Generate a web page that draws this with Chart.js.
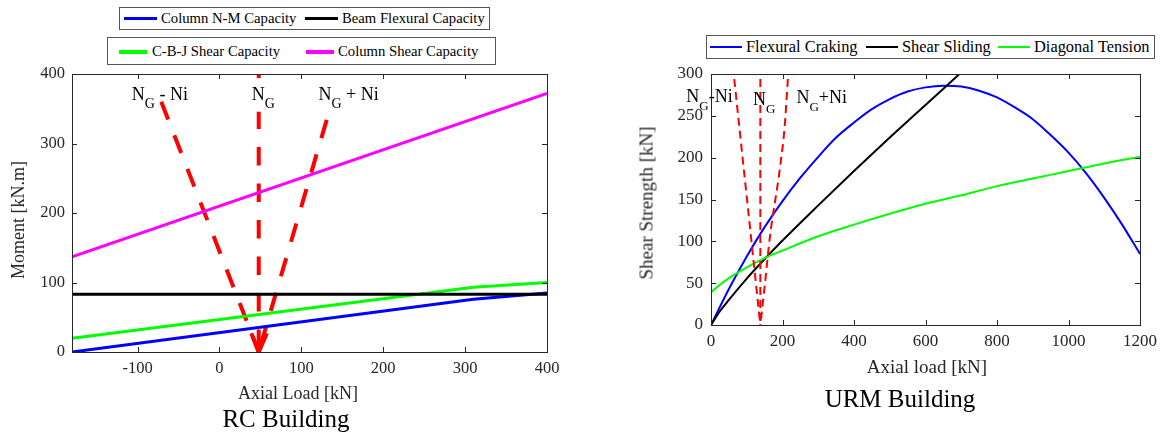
<!DOCTYPE html>
<html>
<head>
<meta charset="utf-8">
<script src="https://cdn.jsdelivr.net/npm/chart.js@4.4.0/dist/chart.umd.min.js"></script>
<style>
  body { margin: 0; background: #fff; font-family: "Liberation Serif", "Times New Roman", serif; }
  .page { position: relative; width: 1163px; height: 435px; overflow: hidden; background: #fff; }
  canvas { position: absolute; top: 0; }
  .txt { position: absolute; white-space: nowrap; line-height: 1; color: #262626; }
  .title { color: #000; }
  .rot { transform: translate(-50%, -50%) rotate(-90deg); }
  .legend { position: absolute; border: 1px solid #555; background: #fff; box-sizing: border-box; }
  .legend i { position: absolute; display: block; }
  .legend span { position: absolute; white-space: nowrap; line-height: 1; color: #000; }
</style>
</head>
<body>
<div class="page">
  <canvas id="rcChart" width="580" height="435" style="left:0"></canvas>
  <canvas id="urmChart" width="543" height="435" style="left:620px"></canvas>

  <!-- RC legend: two boxes -->
  <div class="legend" style="left:119px;top:7px;width:371px;height:23px;font-size:14.7px">
    <i style="left:4px;top:9px;width:33px;height:3px;background:#0000ff"></i>
    <span style="left:41px;top:3px">Column N-M Capacity</span>
    <i style="left:185px;top:9px;width:33px;height:3px;background:#000"></i>
    <span style="left:222px;top:3px">Beam Flexural Capacity</span>
  </div>
  <div class="legend" style="left:107px;top:37px;width:389px;height:28px;font-size:14.7px">
    <i style="left:11px;top:12px;width:28px;height:4px;background:#00ff00"></i>
    <span style="left:44px;top:6px">C-B-J Shear Capacity</span>
    <i style="left:198px;top:12px;width:28px;height:4px;background:#ff00ff"></i>
    <span style="left:230px;top:6px">Column Shear Capacity</span>
  </div>

  <!-- URM legend -->
  <div class="legend" style="left:706px;top:35px;width:449px;height:24px;font-size:16.4px">
    <i style="left:3px;top:10px;width:32px;height:2px;background:#0000ff"></i>
    <span style="left:39px;top:3px">Flexural Craking</span>
    <i style="left:159px;top:10px;width:32px;height:2px;background:#000"></i>
    <span style="left:195px;top:3px">Shear Sliding</span>
    <i style="left:291px;top:10px;width:32px;height:2px;background:#00ff00"></i>
    <span style="left:327px;top:3px">Diagonal Tension</span>
  </div>

  <!-- axis titles -->
  <div class="txt rot" style="left:18px;top:220px;font-size:18px">Moment [kN.m]</div>
  <div class="txt" style="left:298px;top:384px;font-size:18px;transform:translateX(-50%)">Axial Load [kN]</div>
  <div class="txt title" style="left:286px;top:406px;font-size:25px;transform:translateX(-50%)">RC Building</div>

  <div class="txt rot" style="left:646px;top:203px;font-size:19px">Shear Strength [kN]</div>
  <div class="txt" style="left:927px;top:357px;font-size:19px;transform:translateX(-50%)">Axial load [kN]</div>
  <div class="txt title" style="left:900px;top:386px;font-size:25px;transform:translateX(-50%)">URM Building</div>
</div>

<script>
  const family = '"Liberation Serif", "Times New Roman", serif';
  Chart.defaults.font.family = family;

  // ---- RC building: moment vs axial load ----
  const rcLoadTicks = [-100, 0, 100, 200, 300, 400];
  const rcMomentTicks = [0, 100, 200, 300, 400];

  const nmLoad = [-180, 310, 400];
  const nmMoment = [0, 76, 85];
  const beamLoad = [-180, 400];
  const beamMoment = [83, 83];
  const cbjLoad = [-180, 310, 400];
  const cbjMoment = [19.7, 93, 100];
  const colShearLoad = [-180, 400];
  const colShearMoment = [137, 372];

  // gravity load arrows
  const ngLoad = [48, 48];
  const ngMoment = [400, 0];
  const ngMinusLoad = [-71, 48];
  const ngMinusMoment = [360, 0];
  const ngPlusLoad = [131, 48];
  const ngPlusMoment = [334, 0];
  const ngHeadLoad = [39, 48, 58];
  const ngHeadMoment = [27, 0, 27];

  // ---- URM building: shear strength vs axial load ----
  const urmLoadTicks = [0, 200, 400, 600, 800, 1000, 1200];
  const urmShearTicks = [0, 50, 100, 150, 200, 250, 300];

  const flexLoad = [0, 50, 100, 150, 200, 250, 300, 350, 400, 450, 500, 550, 600, 650,
    700, 750, 800, 850, 900, 950, 1000, 1050, 1100, 1150, 1200];
  const flexShear = [0, 43, 82, 117, 148, 176, 201, 224, 242, 258, 270, 279, 284, 286,
    285, 280, 272, 260, 246, 227, 206, 181, 152, 120, 85];
  const slideLoad = [0, 25, 50, 100, 155, 200, 300, 400, 500, 600, 700];
  const slideShear = [0, 16.5, 30, 55.5, 81, 101, 143, 184, 224, 263, 302];
  const diagLoad = [0, 25, 50, 100, 150, 200, 300, 400, 500, 600, 700, 800, 900, 1000, 1100, 1200];
  const diagShear = [39, 48, 56, 69, 80, 89, 106, 120, 133, 145, 155, 166, 175, 184, 193, 201];

  const urmNgLoad = [138, 138];
  const urmNgShear = [294, 0];
  const urmMinusLoad = [65, 138];
  const urmMinusShear = [294, 0];
  const urmPlusLoad = [215, 206, 192, 165, 150, 138];
  const urmPlusShear = [294, 237, 185, 106, 46, 0];

  const pts = (xs, ys) => xs.map((x, i) => ({ x, y: ys[i] }));

  function line(xs, ys, color, width, extra) {
    return Object.assign({
      data: pts(xs, ys),
      showLine: true,
      borderColor: color,
      backgroundColor: color,
      borderWidth: width,
      pointRadius: 0,
      tension: 0
    }, extra || {});
  }

  // axes box with inward ticks on all four sides
  const frame = {
    id: 'frame',
    afterDatasetsDraw(chart) {
      const { ctx, chartArea: a, scales: { x, y } } = chart;
      const len = 5;
      ctx.save();
      ctx.strokeStyle = '#262626';
      ctx.lineWidth = 1;
      ctx.beginPath();
      x.ticks.forEach(t => {
        const px = Math.round(x.getPixelForValue(t.value)) + 0.5;
        ctx.moveTo(px, a.bottom); ctx.lineTo(px, a.bottom - len);
        ctx.moveTo(px, a.top); ctx.lineTo(px, a.top + len);
      });
      y.ticks.forEach(t => {
        const py = Math.round(y.getPixelForValue(t.value)) + 0.5;
        ctx.moveTo(a.left, py); ctx.lineTo(a.left + len, py);
        ctx.moveTo(a.right, py); ctx.lineTo(a.right - len, py);
      });
      ctx.stroke();
      ctx.strokeRect(Math.round(a.left) + 0.5, Math.round(a.top) + 0.5,
        Math.round(a.right - a.left), Math.round(a.bottom - a.top));
      ctx.restore();
    }
  };

  // N_G style labels: main text, subscript, trailing text
  const notes = {
    id: 'notes',
    afterDatasetsDraw(chart, args, opts) {
      const { ctx, scales: { x, y } } = chart;
      const big = opts.size + 'px ' + family;
      const small = opts.subSize + 'px ' + family;
      ctx.save();
      ctx.textBaseline = 'alphabetic';
      ctx.textAlign = 'left';
      opts.items.forEach(n => {
        const [main, sub, tail] = n.parts;
        let px = x.getPixelForValue(n.at[0]);
        const py = y.getPixelForValue(n.at[1]);
        ctx.font = big;
        const w1 = ctx.measureText(main).width;
        const w3 = ctx.measureText(tail).width;
        ctx.font = small;
        const w2 = ctx.measureText(sub).width;
        if (n.boxed) {
          ctx.fillStyle = '#fff';
          ctx.fillRect(px - 2, py - opts.size * 1.2, w1 + w2 + w3 + 4, opts.size * 1.2 + opts.subShift + 4);
        }
        ctx.fillStyle = '#000';
        ctx.font = big;
        ctx.fillText(main, px, py);
        px += w1;
        ctx.font = small;
        ctx.fillText(sub, px, py + opts.subShift);
        px += w2;
        ctx.font = big;
        ctx.fillText(tail, px, py);
      });
      ctx.restore();
    }
  };

  function axisOptions(min, max, tickValues, fontSize, pad, fit) {
    return {
      type: 'linear',
      min: min,
      max: max,
      grid: { display: false, drawTicks: false },
      border: { display: false },
      ticks: {
        font: { family: family, size: fontSize },
        color: '#262626',
        padding: pad,
        autoSkip: false,
        maxRotation: 0,
        minRotation: 0,
        callback: v => String(v)
      },
      afterBuildTicks: s => { s.ticks = tickValues.map(v => ({ value: v })); },
      afterFit: fit
    };
  }

  new Chart(document.getElementById('rcChart'), {
    type: 'scatter',
    data: {
      datasets: [
        line(colShearLoad, colShearMoment, '#ff00ff', 3),
        line(beamLoad, beamMoment, '#000000', 3),
        line(cbjLoad, cbjMoment, '#00ff00', 3),
        line(nmLoad, nmMoment, '#0000ff', 3),
        line(ngLoad, ngMoment, '#ff0000', 4, { borderDash: [18.5, 18] }),
        line(ngMinusLoad, ngMinusMoment, '#ff0000', 4, { borderDash: [19, 17] }),
        line(ngPlusLoad, ngPlusMoment, '#ff0000', 4, { borderDash: [19, 17] }),
        line(ngHeadLoad, ngHeadMoment, '#ff0000', 4)
      ]
    },
    options: {
      responsive: false,
      animation: false,
      devicePixelRatio: 1,
      layout: { padding: { top: 74, right: 33, left: 0, bottom: 0 } },
      scales: {
        x: axisOptions(-180, 400, rcLoadTicks, 16.5, 7, s => { s.height = 83; }),
        y: axisOptions(0, 400, rcMomentTicks, 16.5, 7, s => { s.width = 72; })
      },
      plugins: {
        legend: { display: false },
        tooltip: { enabled: false },
        notes: {
          size: 18, subSize: 14, subShift: 8,
          items: [
            { parts: ['N', 'G', ' - Ni'], at: [-107, 363] },
            { parts: ['N', 'G', ''], at: [39.5, 363], boxed: true },
            { parts: ['N', 'G', ' + Ni'], at: [121, 363] }
          ]
        }
      }
    },
    plugins: [frame, notes]
  });

  new Chart(document.getElementById('urmChart'), {
    type: 'scatter',
    data: {
      datasets: [
        line(urmNgLoad, urmNgShear, '#ff0000', 2, { borderDash: [8, 5] }),
        line(urmMinusLoad, urmMinusShear, '#ff0000', 2, { borderDash: [8, 5] }),
        line(urmPlusLoad, urmPlusShear, '#ff0000', 2, { borderDash: [8, 5], cubicInterpolationMode: 'monotone' }),
        line(diagLoad, diagShear, '#00ff00', 2, { cubicInterpolationMode: 'monotone' }),
        line(slideLoad, slideShear, '#000000', 2, { cubicInterpolationMode: 'monotone' }),
        line(flexLoad, flexShear, '#0000ff', 2, { cubicInterpolationMode: 'monotone' })
      ]
    },
    options: {
      responsive: false,
      animation: false,
      devicePixelRatio: 1,
      layout: { padding: { top: 74, right: 20, left: 0, bottom: 0 } },
      scales: {
        x: axisOptions(0, 1200, urmLoadTicks, 17, 6, s => { s.height = 110; }),
        y: axisOptions(0, 300, urmShearTicks, 17, 8, s => { s.width = 91; })
      },
      plugins: {
        legend: { display: false },
        tooltip: { enabled: false },
        notes: {
          size: 18, subSize: 13, subShift: 8,
          items: [
            { parts: ['N', 'G', '-Ni'], at: [-69, 267] },
            { parts: ['N', 'G', ''], at: [117.5, 263] },
            { parts: ['N', 'G', '+Ni'], at: [239, 265] }
          ]
        }
      }
    },
    plugins: [frame, notes]
  });
</script>
</body>
</html>
